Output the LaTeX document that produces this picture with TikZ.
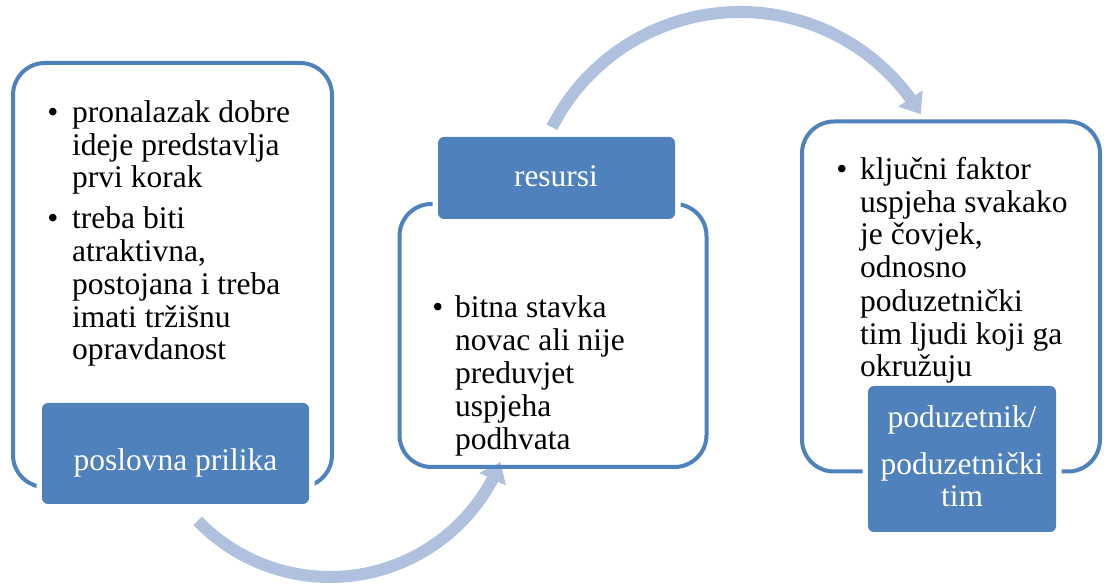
\documentclass[tikz,border=0pt]{standalone}
\usepackage{fontspec}
\setmainfont{Liberation Serif}
\newfontfamily\tnr{Liberation Serif}
\usetikzlibrary{arrows.meta,bending}
\definecolor{boxblue}{HTML}{4F81BD}
\definecolor{arrowblue}{HTML}{B0C1DF}
\begin{document}
\begin{tikzpicture}[x=1pt,y=1pt,
  outerbox/.style={draw=boxblue, line width=4pt, rounded corners=32pt, inner sep=0pt, outer sep=0pt},
  labelbox/.style={fill=boxblue, rounded corners=6pt, inner sep=0pt, outer sep=0pt, preaction={draw=white, line width=11pt}},
  bigarrow/.style={draw=arrowblue, line width=12pt, -{Triangle[length=19pt,width=28pt,flex]}},
  body/.style={font=\tnr\fontsize{31.5}{32.8}\selectfont, text=black, inner sep=0pt, anchor=base west},
  bul/.style={font=\tnr\fontsize{31.5}{32.8}\selectfont, text=black, inner sep=0pt, anchor=base},
  labeltext/.style={font=\tnr\fontsize{31.5}{32.8}\selectfont, text=white, inner sep=0pt, anchor=base}
]
\useasboundingbox[fill=white] (0,0) rectangle (1104,584);

% curved arrows
\coordinate (c1) at (330,191);
\coordinate (c2) at (740,361);
\draw[bigarrow] ([shift={(224:184)}]c1) arc[start angle=224, end angle=338, radius=184];
\draw[bigarrow] ([shift={(153:211)}]c2) arc[start angle=153, end angle=31, radius=211];

% outer boxes
\node[outerbox, minimum width=319pt, minimum height=424pt] (b1) at (172.5,309) {};
\node[outerbox, minimum width=307pt, minimum height=263pt] (b2) at (553,248.5) {};
\node[outerbox, minimum width=298pt, minimum height=350pt] (b3) at (951,287.5) {};

% label boxes
\node[labelbox, minimum width=267pt, minimum height=101pt] (l1) at (175.5,130.5) {};
\node[labelbox, minimum width=237pt, minimum height=82pt] (l2) at (556.5,406) {};
\node[labelbox, minimum width=188pt, minimum height=146pt] (l3) at (962,125) {};

% label texts
\node[labeltext] (l1t) at (175.5,113) {poslovna prilika};
\node[labeltext] (l2t) at (556,397) {resursi};
\node[labeltext] (l3a) at (962,156) {poduzetnik/};
\node[labeltext] (l3b) at (962,109) {poduzetnički};
\node[labeltext] (l3c) at (962,77) {tim};

% box 1 text
\node[bul] (p1) at (53,461) {•};
\node[body] (t11) at (72,461) {pronalazak dobre};
\node[body] (t12) at (72,428) {ideje predstavlja};
\node[body] (t13) at (72,396) {prvi korak};
\node[bul] (p2) at (53,355) {•};
\node[body] (t14) at (72,355) {treba biti};
\node[body] (t15) at (72,322) {atraktivna,};
\node[body] (t16) at (72,289) {postojana i treba};
\node[body] (t17) at (72,256) {imati tržišnu};
\node[body] (t18) at (72,224) {opravdanost};

% box 2 text
\node[bul] (p3) at (438,266) {•};
\node[body] (t21) at (455,266) {bitna stavka};
\node[body] (t22) at (455,233) {novac ali nije};
\node[body] (t23) at (455,200) {preduvjet};
\node[body] (t24) at (455,167) {uspjeha};
\node[body] (t25) at (455,134) {podhvata};

% box 3 text
\node[bul] (p4) at (842,404) {•};
\node[body] (t31) at (860,404) {ključni faktor};
\node[body] (t32) at (860,371) {uspjeha svakako};
\node[body] (t33) at (860,339) {je čovjek,};
\node[body] (t34) at (860,306) {odnosno};
\node[body] (t35) at (860,272) {poduzetnički};
\node[body] (t36) at (860,239) {tim ljudi koji ga};
\node[body] (t37) at (860,207) {okružuju};
\end{tikzpicture}
\end{document}
